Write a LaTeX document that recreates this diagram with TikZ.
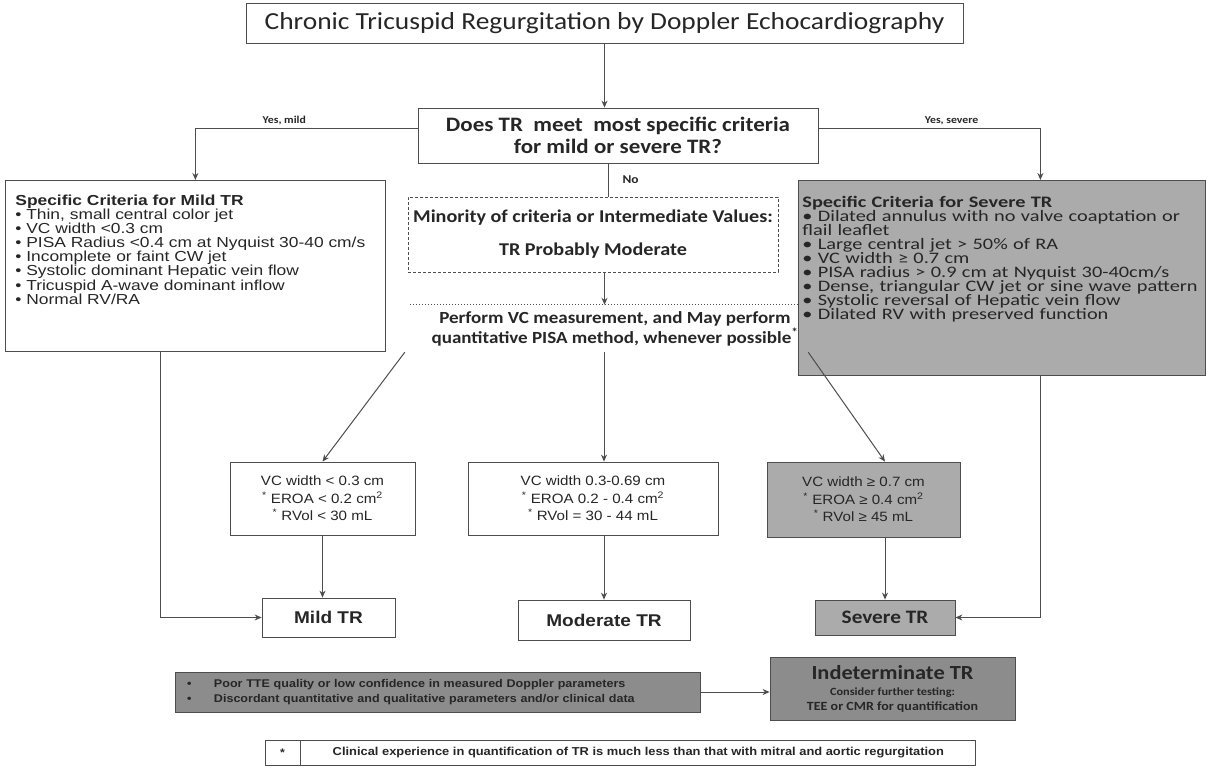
\documentclass[tikz,border=0pt]{standalone}
\usepackage{fontspec}
\setmainfont{Liberation Sans}[FakeStretch=1.12]
\newfontfamily\calfont{Carlito}[FakeStretch=1.12]
\newfontfamily\listfont{Liberation Sans}[FakeStretch=1.2]
\newfontfamily\sevfont{Carlito}[FakeStretch=1.27]
\usetikzlibrary{positioning, calc, arrows.meta}

\definecolor{ink}{HTML}{262626}
\definecolor{rulegray}{HTML}{4D4D4D}
\definecolor{sevgray}{HTML}{ABABAB}
\definecolor{indgray}{HTML}{8C8C8C}

\newcommand{\fsz}[2]{\fontsize{#1}{#2}\selectfont}

\begin{document}
\begin{tikzpicture}[x=1pt, y=-1pt, >={Stealth[length=7pt, width=6pt]},
    every node/.style={text=ink, inner sep=0pt},
    box/.style={draw=rulegray, line width=0.8pt},
    greybox/.style={draw=rulegray, line width=0.8pt, fill=sevgray},
    link/.style={draw=rulegray, line width=1pt}]
    \useasboundingbox (0,0) rectangle (1210,777);

    % top of the chart
    \node[box, minimum width=717, minimum height=40, font=\calfont\fsz{24.5}{28}] (title) at (604.5,23) {Chronic Tricuspid Regurgitation by Doppler Echocardiography};
    \node[box, minimum width=400, minimum height=55, align=center, font=\calfont\bfseries\fsz{20.5}{22}] (q) at (618,135.5) {Does TR\ \ meet\ \ most specific criteria\\for mild or severe TR?};
    \node[box, densely dashed, minimum width=370, minimum height=75, align=center, font=\calfont\bfseries\fsz{18}{20}] (minor) at (593,234.5) {Minority of criteria or Intermediate Values:\\[13pt]TR Probably Moderate};
    \node[minimum width=410, minimum height=47, align=center, font=\calfont\bfseries\fsz{17}{20}] (perf) at (615,328.5) {Perform VC measurement, and May perform\\quantitative PISA method, whenever possible\textsuperscript{*}};
    \draw[rulegray, dotted, line width=1pt] (perf.north west) -- (perf.north east);

    % criteria lists
    \node[box, anchor=north west, text width=360, inner xsep=10pt, inner ysep=8pt, align=left, font=\listfont\fsz{14.5}{14.1}] (mildcrit) at (5,180) {\rule{0pt}{17pt}\textbf{Specific Criteria for Mild TR}\\
        • Thin, small central color jet\\
        • VC width <0.3 cm\\
        • PISA Radius <0.4 cm at Nyquist 30-40 cm/s\\
        • Incomplete or faint CW jet\\
        • Systolic dominant Hepatic vein flow\\
        • Tricuspid A-wave dominant inflow\\
        • Normal RV/RA\rule[-39pt]{0pt}{39pt}};
    \node[greybox, anchor=north west, text width=399, inner xsep=4pt, inner ysep=8pt, align=left, font=\sevfont\fsz{16}{14}] (sevcrit) at (798,180) {\rule{0pt}{19pt}\textbf{Specific Criteria for Severe TR}\\
        • Dilated annulus with no valve coaptation or\\
        flail leaflet\\
        • Large central jet > 50\% of RA\\
        • VC width ≥ 0.7 cm\\
        • PISA radius > 0.9 cm at Nyquist 30-40cm/s\\
        • Dense, triangular CW jet or sine wave pattern\\
        • Systolic reversal of Hepatic vein flow\\
        • Dilated RV with preserved function\rule[-48pt]{0pt}{48pt}};

    % quantitative boxes
    \node[box, minimum width=185, minimum height=73, align=center, font=\fsz{13.5}{17.5}] (mildvc) at (322.5,498.5) {VC width < 0.3 cm\\\textsuperscript{*} EROA < 0.2 cm\textsuperscript{2}\\\textsuperscript{*} RVol < 30 mL};
    \node[box, minimum width=250, minimum height=73, align=center, font=\fsz{13.5}{17.5}] (modvc) at (593,498.5) {VC width 0.3-0.69 cm\\\textsuperscript{*} EROA 0.2 - 0.4 cm\textsuperscript{2}\\\textsuperscript{*} RVol = 30 - 44 mL};
    \node[greybox, minimum width=193, minimum height=75, align=center, font=\fsz{13.5}{17.5}] (sevvc) at (863.5,499.5) {VC width ≥ 0.7 cm\\\textsuperscript{*} EROA ≥ 0.4 cm\textsuperscript{2}\\\textsuperscript{*} RVol ≥ 45 mL};

    % grades
    \node[box, minimum width=133, minimum height=39, font=\bfseries\fsz{17}{20}] (mildtr) at (328.5,617.5) {Mild TR};
    \node[box, minimum width=172, minimum height=40, font=\bfseries\fsz{17}{20}] (modtr) at (604,620) {Moderate TR};
    \node[greybox, minimum width=140, minimum height=35, font=\calfont\bfseries\fsz{19}{22}] (sevtr) at (885,617.5) {Severe TR};

    % indeterminate
    \node[draw=rulegray, line width=0.8pt, fill=indgray, minimum width=525, minimum height=40, text width=501, inner xsep=12pt, align=left, font=\bfseries\fsz{11.2}{15}] (poor) at (437.5,692) {\makebox[27pt][l]{•}Poor TTE quality or low confidence in measured Doppler parameters\\
        \makebox[27pt][l]{•}Discordant quantitative and qualitative parameters and/or clinical data};
    \node[draw=rulegray, line width=0.8pt, fill=indgray, minimum width=245, minimum height=63, align=center, font=\calfont\bfseries\fsz{12.5}{15}] (indet) at (892.5,688.5) {{\fsz{20}{22}Indeterminate TR}\\[1pt]{\fsz{11}{14}Consider further testing:}\\TEE or CMR for quantification};

    % footnote
    \node[box, minimum width=35, minimum height=25, font=\bfseries\fsz{11}{12}] (star) at (282.5,752.5) {*};
    \node[box, right=0pt of star, minimum width=675, minimum height=25, font=\bfseries\fsz{11.5}{12}] (note) {Clinical experience in quantification of TR is much less than that with mitral and aortic regurgitation};

    % connectors
    \draw[link, ->] (title.south) -- (title.south |- q.north);
    \draw[link, ->] ([yshift=7.5pt]q.west) -| (mildcrit.north) node[pos=0.3, above=3pt, font=\calfont\bfseries\fsz{10.5}{12}] {Yes, mild};
    \draw[link, ->] ([yshift=7.5pt]q.east) -| ([xshift=38.5pt]sevcrit.north) node[pos=0.3, above=3pt, font=\calfont\bfseries\fsz{10.5}{12}] {Yes, severe};
    \draw[link] ([xshift=-10pt]q.south) -- ([xshift=-10pt]q.south |- minor.north) node[midway, right=14pt, font=\calfont\bfseries\fsz{12}{14}] {No};
    \draw[link, ->] (minor.south -| title.south) -- (title.south |- perf.north);
    \draw[link, ->] ([xshift=-5pt]perf.south west) -- (mildvc.north);
    \draw[link, ->] (modtr.north |- perf.south) -- (modtr.north |- modvc.north);
    \draw[link, ->] ([xshift=-12pt]perf.south east) -- (sevtr.north |- sevvc.north);
    \draw[link, ->] (mildvc.south) -- (mildvc.south |- mildtr.north);
    \draw[link, ->] (modtr.north |- modvc.south) -- (modtr.north);
    \draw[link, ->] (sevtr.north |- sevvc.south) -- (sevtr.north);
    \draw[link, ->] ([xshift=-35pt]mildcrit.south) |- (mildtr.west);
    \draw[link, ->] ([xshift=38.5pt]sevcrit.south) |- (sevtr.east);
    \draw[link, ->] (poor.east) -- (poor.east -| indet.west);
\end{tikzpicture}
\end{document}
